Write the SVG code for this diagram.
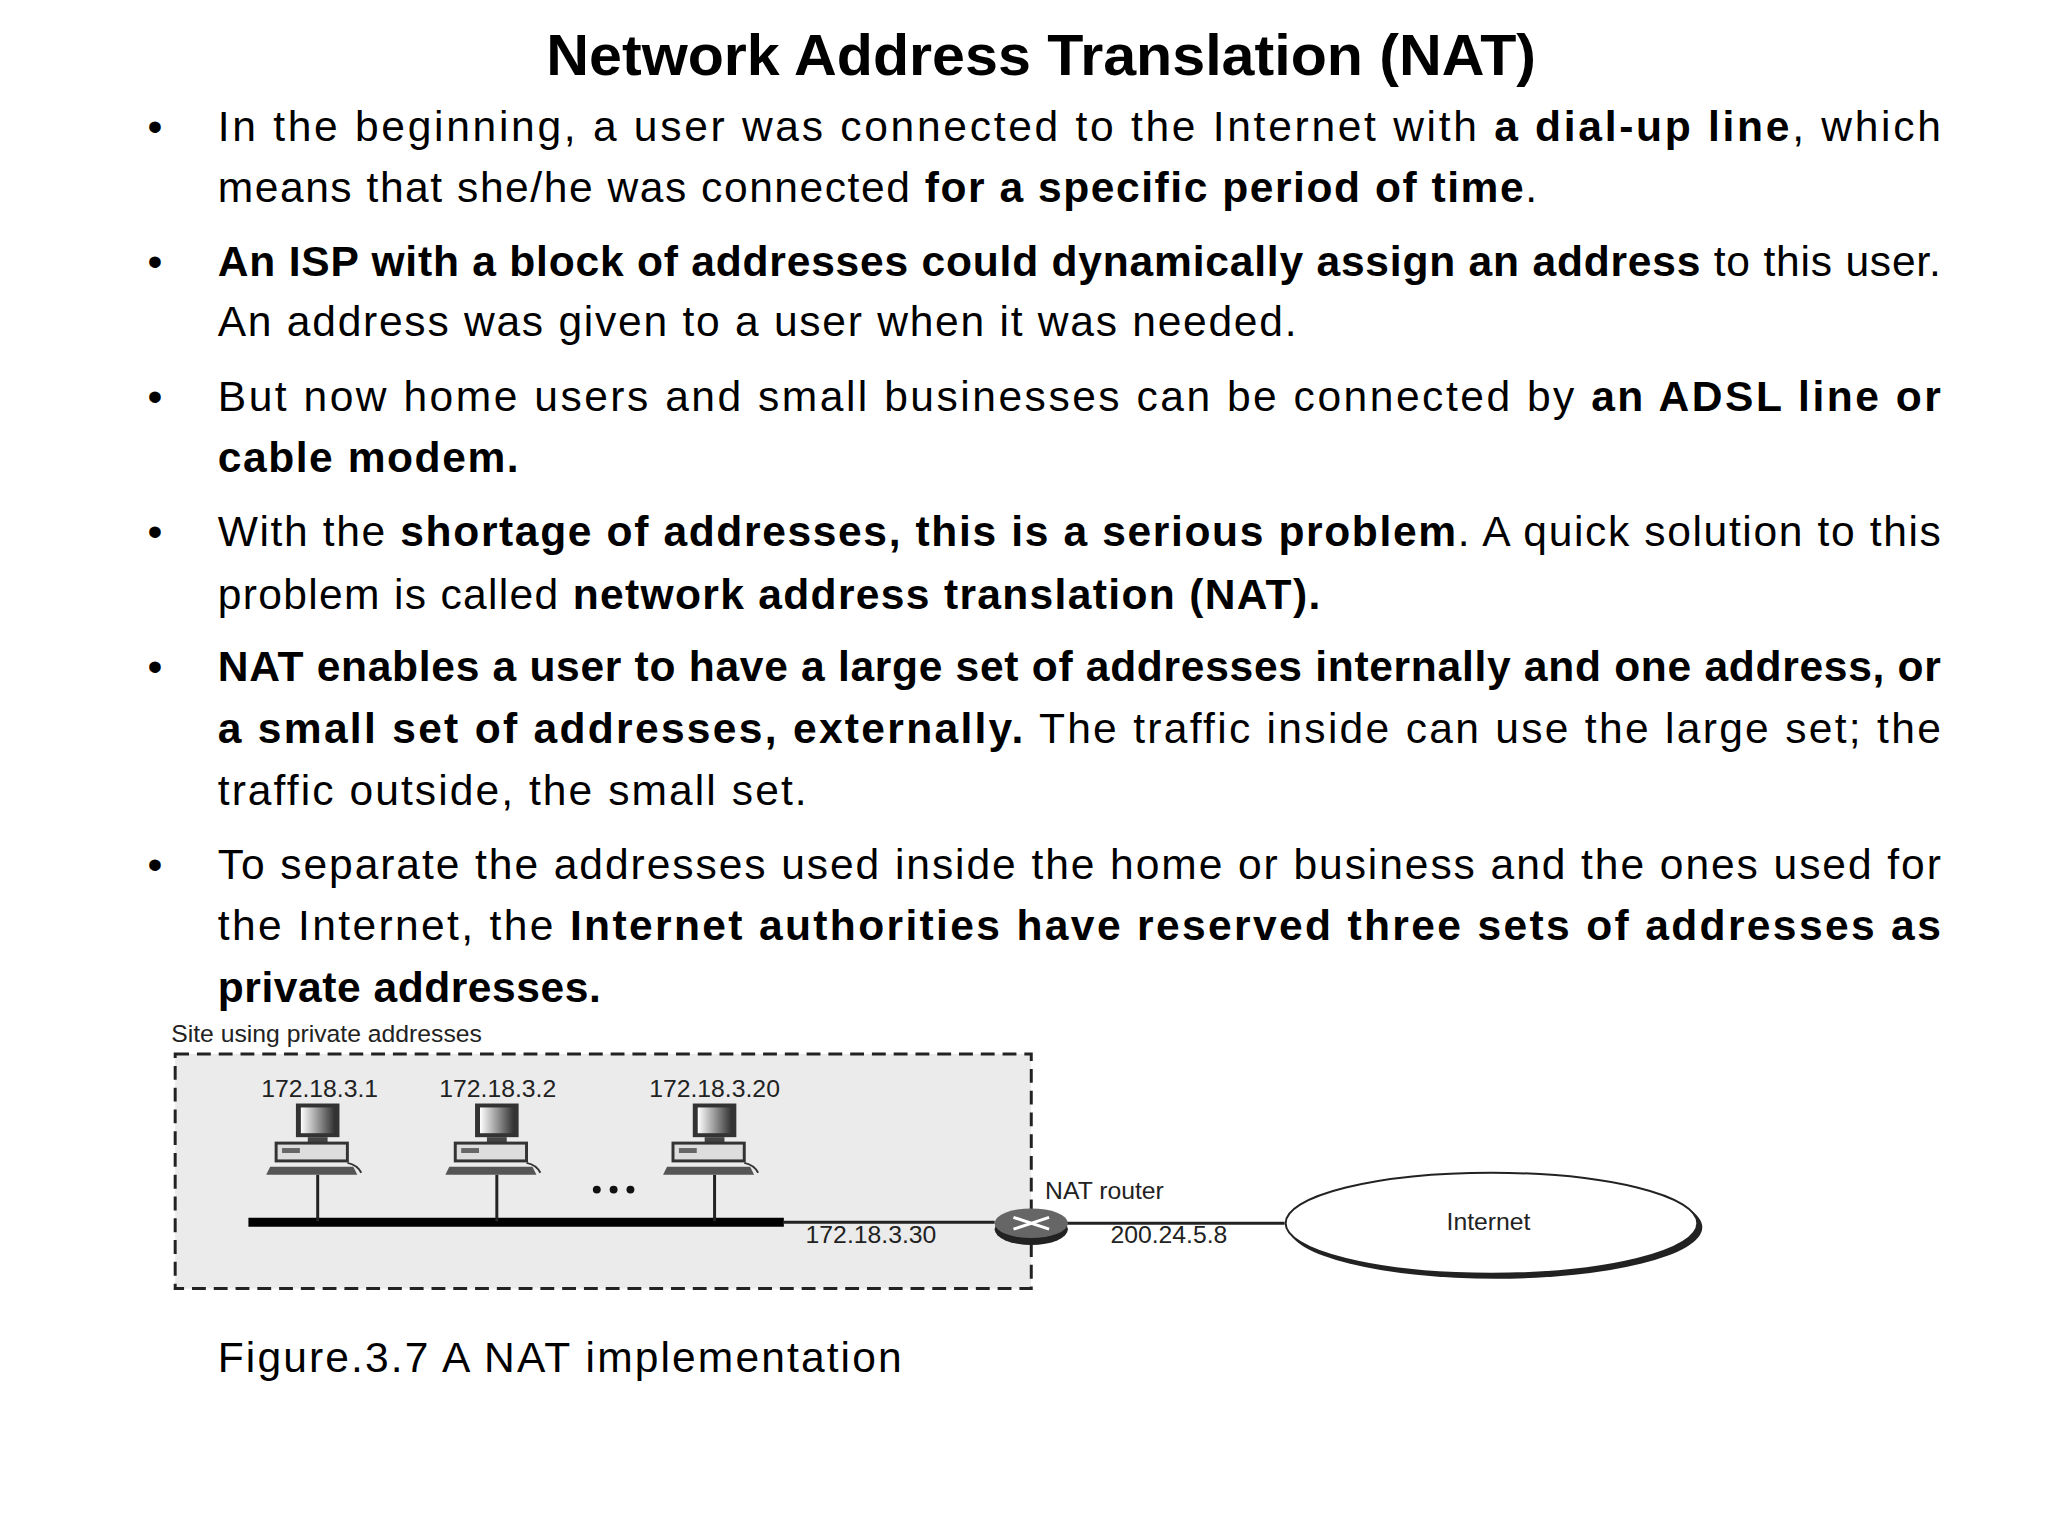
<svg xmlns="http://www.w3.org/2000/svg" width="2048" height="1536" viewBox="0 0 2048 1536">
<style>
.t{font-family:"Liberation Sans",Arial,sans-serif;font-size:43px;fill:#000}
.b{font-weight:bold}
.ttl{font-family:"Liberation Sans",Arial,sans-serif;font-size:58px;font-weight:bold}
.d{font-family:"Liberation Sans",Arial,sans-serif;font-size:25px;fill:#222}
.ln{stroke:#222;stroke-width:3;fill:none}
</style>
<defs>
<linearGradient id="scr" x1="0" x2="1"><stop offset="0" stop-color="#fff"/><stop offset="1" stop-color="#333"/></linearGradient>
<g id="pc">
<rect x="-22" y="0" width="44" height="34" fill="#333"/>
<rect x="-17" y="4" width="34" height="26" fill="url(#scr)"/>
<rect x="-10" y="34" width="20" height="6" fill="#444"/>
<rect x="-42" y="40" width="72" height="18" fill="#ddd" stroke="#333" stroke-width="3"/>
<rect x="-36" y="45" width="18" height="5" fill="#666"/>
<path d="M-48 64 L36 64 L40 72 L-52 72 Z" fill="#555"/>
<path d="M30 60 Q40 62 44 70" stroke="#333" stroke-width="2" fill="none"/>
</g>
</defs>
<rect width="2048" height="1536" fill="#fff"/>
<g transform="scale(0.9897)">
<text class="ttl" x="552" y="76" textLength="1000" lengthAdjust="spacingAndGlyphs">Network Address Translation (NAT)</text>
<g id="bullets" class="t">
<text x="149" y="142">•</text><text x="149" y="279">•</text><text x="149" y="415">•</text><text x="149" y="552">•</text><text x="149" y="688">•</text><text x="149" y="888">•</text>
<text x="220" y="142" textLength="1741" lengthAdjust="spacing">In the beginning, a user was connected to the Internet with <tspan class="b">a dial-up line</tspan>, which</text>
<text x="220" y="204" textLength="1333" lengthAdjust="spacing">means that she/he was connected <tspan class="b">for a specific period of time</tspan>.</text>
<text x="220" y="279" textLength="1741" lengthAdjust="spacing"><tspan class="b">An ISP with a block of addresses could dynamically assign an address</tspan> to this user.</text>
<text x="220" y="340" textLength="1090" lengthAdjust="spacing">An address was given to a user when it was needed.</text>
<text x="220" y="415" textLength="1741" lengthAdjust="spacing">But now home users and small businesses can be connected by <tspan class="b">an ADSL line or</tspan></text>
<text x="220" y="477" class="b" textLength="304" lengthAdjust="spacing">cable modem.</text>
<text x="220" y="552" textLength="1741" lengthAdjust="spacing">With the <tspan class="b">shortage of addresses, this is a serious problem</tspan>. A quick solution to this</text>
<text x="220" y="615" textLength="1114" lengthAdjust="spacing">problem is called <tspan class="b">network address translation (NAT).</tspan></text>
<text x="220" y="688" class="b" textLength="1741" lengthAdjust="spacing">NAT enables a user to have a large set of addresses internally and one address, or</text>
<text x="220" y="751" textLength="1741" lengthAdjust="spacing"><tspan class="b">a small set of addresses, externally.</tspan> The traffic inside can use the large set; the</text>
<text x="220" y="813" textLength="595" lengthAdjust="spacing">traffic outside, the small set.</text>
<text x="220" y="888" textLength="1741" lengthAdjust="spacing">To separate the addresses used inside the home or business and the ones used for</text>
<text x="220" y="950" textLength="1741" lengthAdjust="spacing">the Internet, the <tspan class="b">Internet authorities have reserved three sets of addresses as</tspan></text>
<text x="220" y="1012" class="b" textLength="387" lengthAdjust="spacing">private addresses.</text>
</g>
<g id="site">
<text class="d" x="173" y="1053">Site using private addresses</text>
<rect x="177" y="1065" width="865" height="237" fill="#ebebeb" stroke="#222" stroke-width="3" stroke-dasharray="14 8"/>
</g>
<g id="connectors">
<line x1="251" y1="1235" x2="792" y2="1235" stroke="#000" stroke-width="9"/>
<line class="ln" x1="792" y1="1235" x2="1005" y2="1235"/>
<line class="ln" x1="1078" y1="1236" x2="1298" y2="1236"/>
<line class="ln" x1="321" y1="1187" x2="321" y2="1234"/>
<line class="ln" x1="502" y1="1187" x2="502" y2="1234"/>
<line class="ln" x1="722" y1="1187" x2="722" y2="1234"/>
</g>
<g id="pc1"><text class="d" x="323" y="1108" text-anchor="middle">172.18.3.1</text><use href="#pc" x="321" y="1115"/></g>
<g id="pc2"><text class="d" x="503" y="1108" text-anchor="middle">172.18.3.2</text><use href="#pc" x="502" y="1115"/></g>
<g id="pc3"><text class="d" x="722" y="1108" text-anchor="middle">172.18.3.20</text><use href="#pc" x="722" y="1115"/></g>
<g id="dots" fill="#111"><circle cx="603" cy="1202" r="4"/><circle cx="620" cy="1202" r="4"/><circle cx="637" cy="1202" r="4"/></g>
<g id="router">
<ellipse cx="1042" cy="1242" rx="37" ry="16" fill="#222"/>
<ellipse cx="1042" cy="1236" rx="37" ry="15" fill="#666"/>
<path d="M1024 1230 L1060 1242 M1024 1242 L1060 1230" stroke="#fff" stroke-width="3"/>
<text class="d" x="1056" y="1211">NAT router</text>
<text class="d" x="814" y="1256">172.18.3.30</text>
<text class="d" x="1122" y="1256">200.24.5.8</text>
</g>
<g id="internet">
<ellipse cx="1511" cy="1240" rx="209" ry="52" fill="#222"/>
<ellipse cx="1507" cy="1236" rx="208" ry="51" fill="#fff" stroke="#222" stroke-width="2"/>
<text class="d" x="1504" y="1243" text-anchor="middle">Internet</text>
</g>
<text class="t" x="220" y="1386" textLength="691" lengthAdjust="spacing">Figure.3.7 A NAT implementation</text>
</g>
</svg>
